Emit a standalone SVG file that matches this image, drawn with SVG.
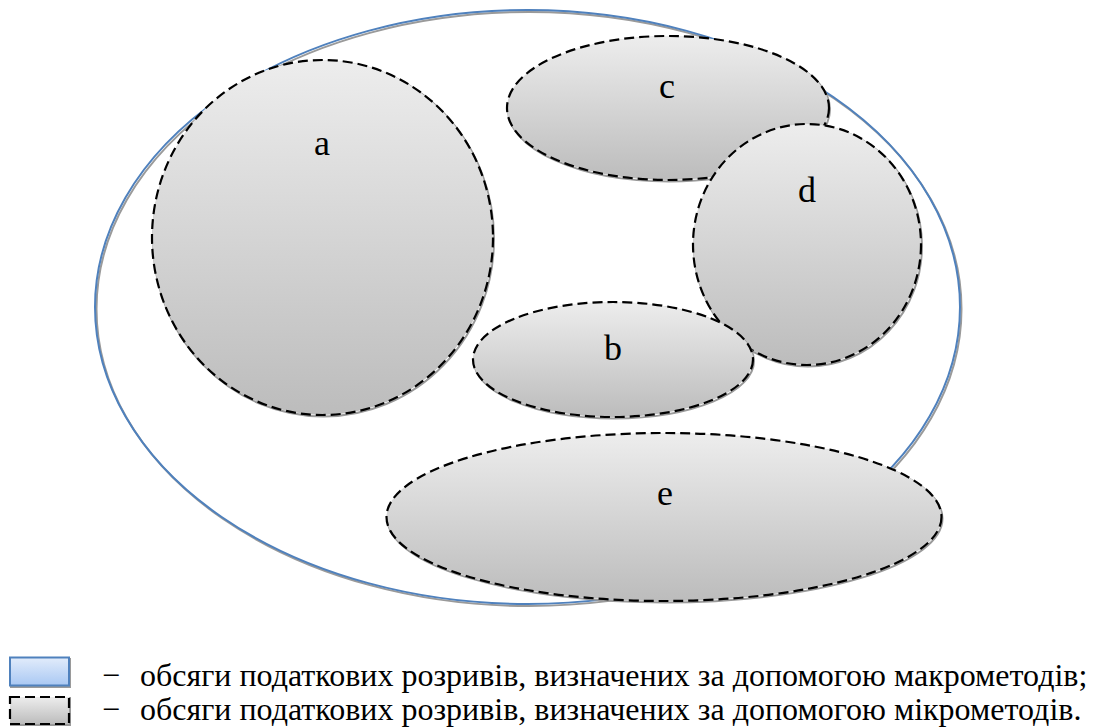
<svg xmlns="http://www.w3.org/2000/svg" width="1101" height="727" viewBox="0 0 1101 727">
<defs>
<linearGradient id="g" x1="0" y1="0" x2="0" y2="1">
<stop offset="0" stop-color="#ededed"/>
<stop offset="1" stop-color="#bcbcbc"/>
</linearGradient>
<linearGradient id="gb" x1="0" y1="0" x2="0" y2="1">
<stop offset="0" stop-color="#e2ecfb"/>
<stop offset="1" stop-color="#a9c8f3"/>
</linearGradient>
</defs>
<style>
.sh{fill:none;stroke:#9a9a9a;stroke-width:2}
.mi{fill:url(#g);stroke:#000;stroke-width:2.2;stroke-dasharray:10 5}
.lb{font-family:"Liberation Serif","Times New Roman",serif;font-size:36px;fill:#000;text-anchor:middle}
.lg{font-family:"Liberation Serif","Times New Roman",serif;font-size:32px;fill:#000}
</style>
<g id="macro">
<ellipse cx="529" cy="309" rx="432.5" ry="297" class="sh" stroke-width="1.5"/>
<ellipse cx="527.5" cy="307" rx="432.5" ry="297" fill="none" stroke="#4f81bd" stroke-width="2"/>
</g>
<g id="node-a">
<ellipse cx="323.5" cy="239" rx="170.5" ry="177.5" class="sh"/>
<ellipse cx="322.5" cy="237.5" rx="170.5" ry="177.5" class="mi"/>
<text x="322" y="155" class="lb">a</text>
</g>
<g id="node-e">
<ellipse cx="665" cy="518.5" rx="277.5" ry="84" class="sh"/>
<ellipse cx="664" cy="517" rx="277.5" ry="84" class="mi"/>
<text x="665" y="505" class="lb">e</text>
</g>
<g id="node-c">
<ellipse cx="669" cy="109.5" rx="161" ry="72" class="sh"/>
<ellipse cx="668" cy="108" rx="161" ry="72" class="mi"/>
<text x="667" y="98" class="lb">c</text>
</g>
<g id="node-d">
<ellipse cx="808" cy="246" rx="114" ry="120.5" class="sh"/>
<ellipse cx="807" cy="244.5" rx="114" ry="120.5" class="mi"/>
<text x="807" y="202" class="lb">d</text>
</g>
<g id="node-b">
<ellipse cx="614" cy="361" rx="140" ry="57.5" class="sh"/>
<ellipse cx="613" cy="359.5" rx="140" ry="57.5" class="mi"/>
<text x="613" y="360" class="lb">b</text>
</g>
<g id="legend">
<rect x="11" y="659" width="59" height="28" fill="none" stroke="#9a9a9a" stroke-width="2"/>
<rect x="10" y="657.5" width="59" height="28" fill="url(#gb)" stroke="#4f81bd" stroke-width="2"/>
<rect x="11" y="698" width="59" height="27" fill="none" stroke="#9a9a9a" stroke-width="2"/>
<rect x="10" y="697" width="59" height="27" class="mi"/>
<text x="102" y="686" class="lg">−</text>
<text x="140" y="686" class="lg">обсяги податкових розривів, визначених за допомогою макрометодів;</text>
<text x="102" y="720" class="lg">−</text>
<text x="140" y="720" class="lg">обсяги податкових розривів, визначених за допомогою мікрометодів.</text>
</g>
</svg>
